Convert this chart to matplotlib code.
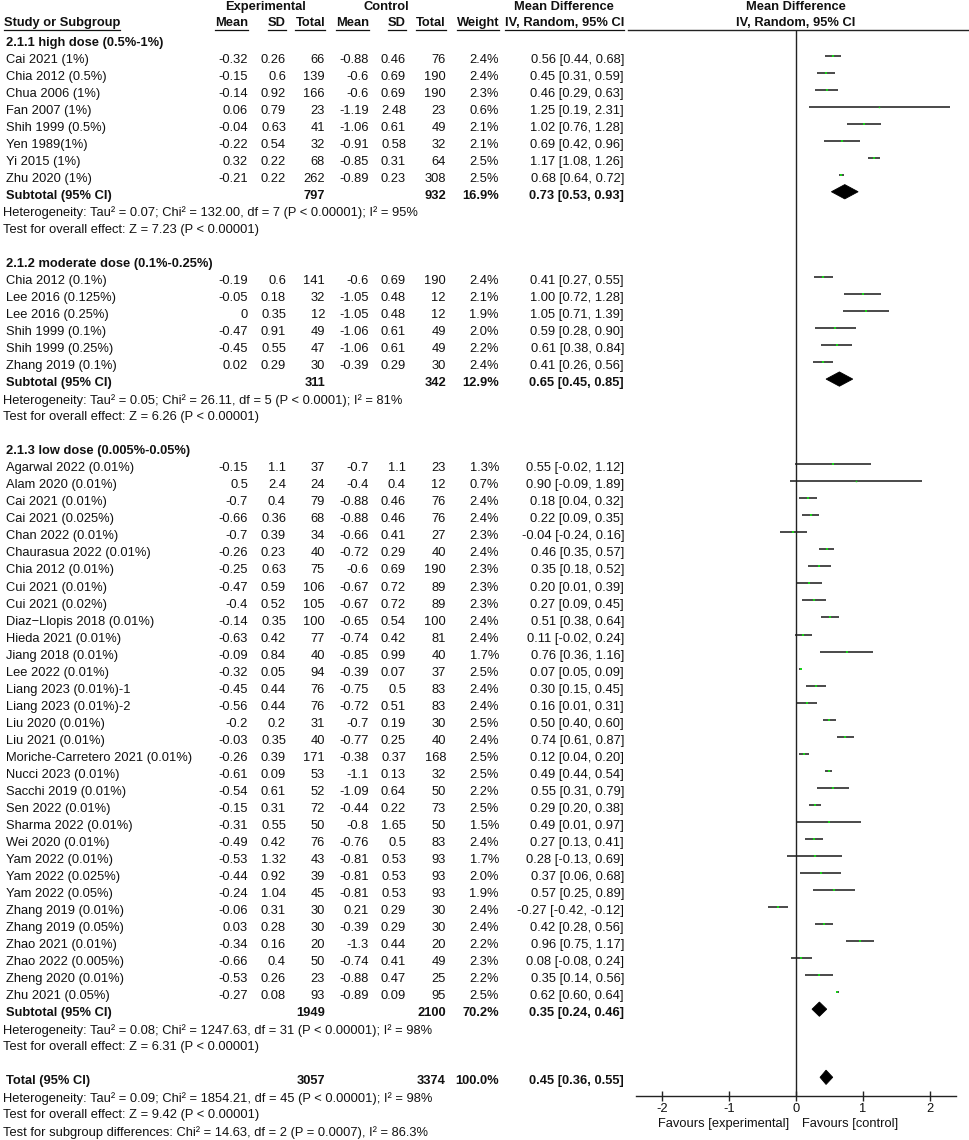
import matplotlib
matplotlib.use("Agg")
import matplotlib.pyplot as plt
from matplotlib.transforms import blended_transform_factory
from matplotlib.lines import Line2D
from matplotlib.patches import Polygon

plt.rcParams["font.family"] = ["Liberation Sans", "DejaVu Sans"]
FS = 9.3

# ---------------- data ----------------
group_titles = ["2.1.1 high dose (0.5%-1%)", "2.1.2 moderate dose (0.1%-0.25%)", "2.1.3 low dose (0.005%-0.05%)"]

g1_names = ["Cai 2021 (1%)", "Chia 2012 (0.5%)", "Chua 2006 (1%)", "Fan 2007 (1%)", "Shih 1999 (0.5%)",
            "Yen 1989(1%)", "Yi 2015 (1%)", "Zhu 2020 (1%)"]
g1_e_mean = [-0.32, -0.15, -0.14, 0.06, -0.04, -0.22, 0.32, -0.21]
g1_e_sd = [0.26, 0.6, 0.92, 0.79, 0.63, 0.54, 0.22, 0.22]
g1_e_n = [66, 139, 166, 23, 41, 32, 68, 262]
g1_c_mean = [-0.88, -0.6, -0.6, -1.19, -1.06, -0.91, -0.85, -0.89]
g1_c_sd = [0.46, 0.69, 0.69, 2.48, 0.61, 0.58, 0.31, 0.23]
g1_c_n = [76, 190, 190, 23, 49, 32, 64, 308]
g1_weight = [2.4, 2.4, 2.3, 0.6, 2.1, 2.1, 2.5, 2.5]
g1_md = [0.56, 0.45, 0.46, 1.25, 1.02, 0.69, 1.17, 0.68]
g1_lo = [0.44, 0.31, 0.29, 0.19, 0.76, 0.42, 1.08, 0.64]
g1_hi = [0.68, 0.59, 0.63, 2.31, 1.28, 0.96, 1.26, 0.72]

g2_names = ["Chia 2012 (0.1%)", "Lee 2016 (0.125%)", "Lee 2016 (0.25%)", "Shih 1999 (0.1%)",
            "Shih 1999 (0.25%)", "Zhang 2019 (0.1%)"]
g2_e_mean = [-0.19, -0.05, 0, -0.47, -0.45, 0.02]
g2_e_sd = [0.6, 0.18, 0.35, 0.91, 0.55, 0.29]
g2_e_n = [141, 32, 12, 49, 47, 30]
g2_c_mean = [-0.6, -1.05, -1.05, -1.06, -1.06, -0.39]
g2_c_sd = [0.69, 0.48, 0.48, 0.61, 0.61, 0.29]
g2_c_n = [190, 12, 12, 49, 49, 30]
g2_weight = [2.4, 2.1, 1.9, 2.0, 2.2, 2.4]
g2_md = [0.41, 1.00, 1.05, 0.59, 0.61, 0.41]
g2_lo = [0.27, 0.72, 0.71, 0.28, 0.38, 0.26]
g2_hi = [0.55, 1.28, 1.39, 0.90, 0.84, 0.56]

g3_names = ["Agarwal 2022 (0.01%)", "Alam 2020 (0.01%)", "Cai 2021 (0.01%)", "Cai 2021 (0.025%)",
            "Chan 2022 (0.01%)", "Chaurasua 2022 (0.01%)", "Chia 2012 (0.01%)", "Cui 2021 (0.01%)",
            "Cui 2021 (0.02%)", "Diaz\u2212Llopis 2018 (0.01%)", "Hieda 2021 (0.01%)", "Jiang 2018 (0.01%)",
            "Lee 2022 (0.01%)", "Liang 2023 (0.01%)-1", "Liang 2023 (0.01%)-2", "Liu 2020 (0.01%)",
            "Liu 2021 (0.01%)", "Moriche-Carretero 2021 (0.01%)", "Nucci 2023 (0.01%)", "Sacchi 2019 (0.01%)",
            "Sen 2022 (0.01%)", "Sharma 2022 (0.01%)", "Wei 2020 (0.01%)", "Yam 2022 (0.01%)",
            "Yam 2022 (0.025%)", "Yam 2022 (0.05%)", "Zhang 2019 (0.01%)", "Zhang 2019 (0.05%)",
            "Zhao 2021 (0.01%)", "Zhao 2022 (0.005%)", "Zheng 2020 (0.01%)", "Zhu 2021 (0.05%)"]
g3_e_mean = [-0.15, 0.5, -0.7, -0.66, -0.7, -0.26, -0.25, -0.47, -0.4, -0.14, -0.63, -0.09, -0.32, -0.45,
             -0.56, -0.2, -0.03, -0.26, -0.61, -0.54, -0.15, -0.31, -0.49, -0.53, -0.44, -0.24, -0.06,
             0.03, -0.34, -0.66, -0.53, -0.27]
g3_e_sd = [1.1, 2.4, 0.4, 0.36, 0.39, 0.23, 0.63, 0.59, 0.52, 0.35, 0.42, 0.84, 0.05, 0.44, 0.44, 0.2,
           0.35, 0.39, 0.09, 0.61, 0.31, 0.55, 0.42, 1.32, 0.92, 1.04, 0.31, 0.28, 0.16, 0.4, 0.26, 0.08]
g3_e_n = [37, 24, 79, 68, 34, 40, 75, 106, 105, 100, 77, 40, 94, 76, 76, 31, 40, 171, 53, 52, 72, 50, 76,
          43, 39, 45, 30, 30, 20, 50, 23, 93]
g3_c_mean = [-0.7, -0.4, -0.88, -0.88, -0.66, -0.72, -0.6, -0.67, -0.67, -0.65, -0.74, -0.85, -0.39,
             -0.75, -0.72, -0.7, -0.77, -0.38, -1.1, -1.09, -0.44, -0.8, -0.76, -0.81, -0.81, -0.81, 0.21,
             -0.39, -1.3, -0.74, -0.88, -0.89]
g3_c_sd = [1.1, 0.4, 0.46, 0.46, 0.41, 0.29, 0.69, 0.72, 0.72, 0.54, 0.42, 0.99, 0.07, 0.5, 0.51, 0.19,
           0.25, 0.37, 0.13, 0.64, 0.22, 1.65, 0.5, 0.53, 0.53, 0.53, 0.29, 0.29, 0.44, 0.41, 0.47, 0.09]
g3_c_n = [23, 12, 76, 76, 27, 40, 190, 89, 89, 100, 81, 40, 37, 83, 83, 30, 40, 168, 32, 50, 73, 50, 83,
          93, 93, 93, 30, 30, 20, 49, 25, 95]
g3_weight = [1.3, 0.7, 2.4, 2.4, 2.3, 2.4, 2.3, 2.3, 2.3, 2.4, 2.4, 1.7, 2.5, 2.4, 2.4, 2.5, 2.4, 2.5, 2.5,
             2.2, 2.5, 1.5, 2.4, 1.7, 2.0, 1.9, 2.4, 2.4, 2.2, 2.3, 2.2, 2.5]
g3_md = [0.55, 0.90, 0.18, 0.22, -0.04, 0.46, 0.35, 0.20, 0.27, 0.51, 0.11, 0.76, 0.07, 0.30, 0.16, 0.50,
         0.74, 0.12, 0.49, 0.55, 0.29, 0.49, 0.27, 0.28, 0.37, 0.57, -0.27, 0.42, 0.96, 0.08, 0.35, 0.62]
g3_lo = [-0.02, -0.09, 0.04, 0.09, -0.24, 0.35, 0.18, 0.01, 0.09, 0.38, -0.02, 0.36, 0.05, 0.15, 0.01,
         0.40, 0.61, 0.04, 0.44, 0.31, 0.20, 0.01, 0.13, -0.13, 0.06, 0.25, -0.42, 0.28, 0.75, -0.08, 0.14,
         0.60]
g3_hi = [1.12, 1.89, 0.32, 0.35, 0.16, 0.57, 0.52, 0.39, 0.45, 0.64, 0.24, 1.16, 0.09, 0.45, 0.31, 0.60,
         0.87, 0.20, 0.54, 0.79, 0.38, 0.97, 0.41, 0.69, 0.68, 0.89, -0.12, 0.56, 1.17, 0.24, 0.56, 0.64]

sub_e_n = [797, 311, 1949]
sub_c_n = [932, 342, 2100]
sub_weight = [16.9, 12.9, 70.2]
sub_md = [0.73, 0.65, 0.35]
sub_lo = [0.53, 0.45, 0.24]
sub_hi = [0.93, 0.85, 0.46]
sub_het = ["Heterogeneity: Tau\u00b2 = 0.07; Chi\u00b2 = 132.00, df = 7 (P < 0.00001); I\u00b2 = 95%",
           "Heterogeneity: Tau\u00b2 = 0.05; Chi\u00b2 = 26.11, df = 5 (P < 0.0001); I\u00b2 = 81%",
           "Heterogeneity: Tau\u00b2 = 0.08; Chi\u00b2 = 1247.63, df = 31 (P < 0.00001); I\u00b2 = 98%"]
sub_z = ["Test for overall effect: Z = 7.23 (P < 0.00001)",
         "Test for overall effect: Z = 6.26 (P < 0.00001)",
         "Test for overall effect: Z = 6.31 (P < 0.00001)"]

tot_e_n, tot_c_n, tot_weight = 3057, 3374, 100.0
tot_md, tot_lo, tot_hi = 0.45, 0.36, 0.55
tot_notes = ["Heterogeneity: Tau\u00b2 = 0.09; Chi\u00b2 = 1854.21, df = 45 (P < 0.00001); I\u00b2 = 98%",
             "Test for overall effect: Z = 9.42 (P < 0.00001)",
             "Test for subgroup differences: Chi\u00b2 = 14.63, df = 2 (P = 0.0007), I\u00b2 = 86.3%"]

xticks = [-2, -1, 0, 1, 2]
favours = ["Favours [experimental]", "Favours [control]"]

groups = [
    (g1_names, g1_e_mean, g1_e_sd, g1_e_n, g1_c_mean, g1_c_sd, g1_c_n, g1_weight, g1_md, g1_lo, g1_hi),
    (g2_names, g2_e_mean, g2_e_sd, g2_e_n, g2_c_mean, g2_c_sd, g2_c_n, g2_weight, g2_md, g2_lo, g2_hi),
    (g3_names, g3_e_mean, g3_e_sd, g3_e_n, g3_c_mean, g3_c_sd, g3_c_n, g3_weight, g3_md, g3_lo, g3_hi),
]

# ---------------- layout ----------------
W, H = 969, 1140
fig = plt.figure(figsize=(W / 100, H / 100), dpi=100)
ax_left, ax_right, ax_top, ax_bot = 635.7, 956.3, 30.0, 1096.0
ax = fig.add_axes([ax_left / W, 1 - ax_bot / H, (ax_right - ax_left) / W, (ax_bot - ax_top) / H])
ax.set_xlim(-2.4, 2.4)
row0, row_h = 8.5, 17.03
ax.set_ylim((ax_bot - row0) / row_h, (ax_top - row0) / row_h)

tr = blended_transform_factory(fig.transFigure, ax.transData)
TXT = "#111111"
LINE = "#222222"
GREEN = "#19d219"
SHIFT = 0.24

# column right edges in px
col_name, col_note = 6.5, 3.0
col_right = [248, 286, 325, 369, 406, 446, 499, 624]


def put(x, y, s, ha="left", bold=False):
    return fig.text(x / W, y, s, transform=tr, ha=ha, va="center", fontsize=FS, color=TXT,
                    fontweight="bold" if bold else "normal")


def fmt(v):
    return f"{v:g}"


def diamond(md, lo, hi, y):
    h = 0.42
    ax.add_patch(Polygon([(lo, y), (md, y - h), (hi, y), (md, y + h)], closed=True,
                         facecolor="black", edgecolor="black", lw=0.6, zorder=4))


# header
hdr_top, hdr_bot = -0.1, 0.87
put(265, hdr_top, "Experimental", ha="center", bold=True)
put(386, hdr_top, "Control", ha="center", bold=True)
put(564, hdr_top, "Mean Difference", ha="center", bold=True)
put(796, hdr_top, "Mean Difference", ha="center", bold=True)
hdr_items = [put(col_name - 2.5, hdr_bot, "Study or Subgroup", bold=True)]
for x, s in zip(col_right, ["Mean", "SD", "Total", "Mean", "SD", "Total", "Weight", "IV, Random, 95% CI"]):
    hdr_items.append(put(x, hdr_bot, s, ha="right", bold=True))
hdr_items.append(put(796, hdr_bot, "IV, Random, 95% CI", ha="center", bold=True))

r = 2
for gi, (names, em, esd, en, cm, csd, cn, wt, md, lo, hi) in enumerate(groups):
    put(col_name, r, group_titles[gi], bold=True)
    r += 1
    for i in range(len(names)):
        put(col_name, r, names[i])
        vals = [fmt(em[i]), fmt(esd[i]), str(en[i]), fmt(cm[i]), fmt(csd[i]), str(cn[i]),
                f"{wt[i]:.1f}%", f"{md[i]:.2f} [{lo[i]:.2f}, {hi[i]:.2f}]"]
        for x, s in zip(col_right, vals):
            put(x, r, s, ha="right")
        y = r - SHIFT
        ax.plot([lo[i], hi[i]], [y, y], color=LINE, lw=1.15, solid_capstyle="butt", zorder=3)
        ax.plot([md[i]], [y], marker="s", ms=1.3 * wt[i] ** 0.5, color=GREEN, mec=GREEN, mew=0, zorder=5)
        r += 1
    put(col_name, r, "Subtotal (95% CI)", bold=True)
    put(col_right[2], r, str(sub_e_n[gi]), ha="right", bold=True)
    put(col_right[5], r, str(sub_c_n[gi]), ha="right", bold=True)
    put(col_right[6], r, f"{sub_weight[gi]:.1f}%", ha="right", bold=True)
    put(col_right[7], r, f"{sub_md[gi]:.2f} [{sub_lo[gi]:.2f}, {sub_hi[gi]:.2f}]", ha="right", bold=True)
    diamond(sub_md[gi], sub_lo[gi], sub_hi[gi], r - SHIFT)
    r += 1
    put(col_note, r, sub_het[gi])
    r += 1
    put(col_note, r, sub_z[gi])
    r += 2

put(col_name, r, "Total (95% CI)", bold=True)
put(col_right[2], r, str(tot_e_n), ha="right", bold=True)
put(col_right[5], r, str(tot_c_n), ha="right", bold=True)
put(col_right[6], r, f"{tot_weight:.1f}%", ha="right", bold=True)
put(col_right[7], r, f"{tot_md:.2f} [{tot_lo:.2f}, {tot_hi:.2f}]", ha="right", bold=True)
diamond(tot_md, tot_lo, tot_hi, r - SHIFT)
for k, note in enumerate(tot_notes):
    put(col_note, r + 1 + k, note)

# axis styling
ax.axvline(0, color=LINE, lw=1.0, zorder=2)
for side in ["top", "right", "left"]:
    ax.spines[side].set_visible(False)
ax.spines["bottom"].set_color(LINE)
ax.spines["bottom"].set_linewidth(1.0)
ax.set_yticks([])
ax.set_xticks(xticks)
ax.set_xticklabels([str(t) for t in xticks])
ax.tick_params(axis="x", direction="inout", length=7, width=1.0, color=LINE, labelsize=FS,
               labelcolor=TXT, pad=1.5)
ax.patch.set_visible(False)

tra = blended_transform_factory(ax.transData, ax.transAxes)
fav_y = -(1124 - ax_bot) / (ax_bot - ax_top)
ax.text(-0.105, fav_y, favours[0], transform=tra, ha="right", va="center", fontsize=FS, color=TXT)
ax.text(0.09, fav_y, favours[1], transform=tra, ha="left", va="center", fontsize=FS, color=TXT)

# underline header labels and top rule of the graph
renderer = fig.canvas.get_renderer()
ul_y = 1 - 29.5 / H
for t in hdr_items[:-1]:
    bb = t.get_window_extent(renderer)
    fig.add_artist(Line2D([bb.x0 / W, bb.x1 / W], [ul_y, ul_y], color=TXT, lw=0.9))
fig.add_artist(Line2D([628 / W, 1.0], [ul_y, ul_y], color=LINE, lw=1.0))

fig.savefig("out.png", dpi=100)
